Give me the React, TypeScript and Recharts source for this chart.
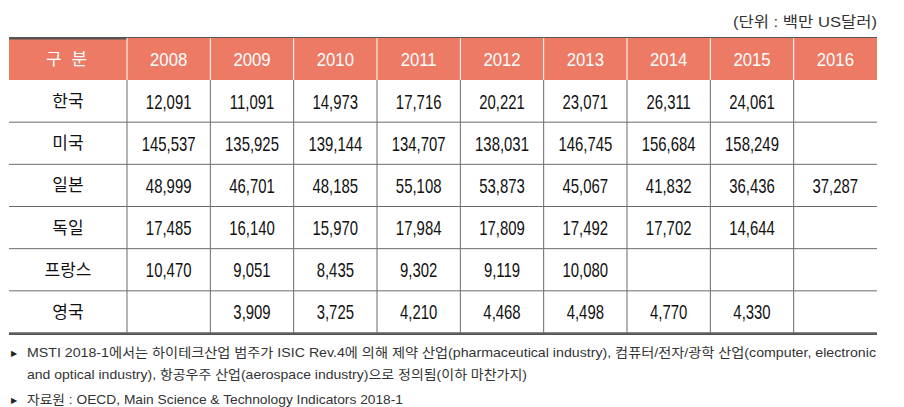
import { ScatterChart, Scatter, XAxis, YAxis } from 'recharts';

const years = ['2008', '2009', '2010', '2011', '2012', '2013', '2014', '2015', '2016'];
const countries = ['한국', '미국', '일본', '독일', '프랑스', '영국'];

const korea = [12091, 11091, 14973, 17716, 20221, 23071, 26311, 24061, null];
const usa = [145537, 135925, 139144, 134707, 138031, 146745, 156684, 158249, null];
const japan = [48999, 46701, 48185, 55108, 53873, 45067, 41832, 36436, 37287];
const germany = [17485, 16140, 15970, 17984, 17809, 17492, 17702, 14644, null];
const france = [10470, 9051, 8435, 9302, 9119, 10080, null, null, null];
const uk = [null, 3909, 3725, 4210, 4468, 4498, 4770, 4330, null];

const unitLabel = '(단위 : 백만 US달러)';
const headerLabel = '구 분';
const notes = [
  'MSTI 2018-1에서는 하이테크산업 범주가 ISIC Rev.4에 의해 제약 산업(pharmaceutical industry), 컴퓨터/전자/광학 산업(computer, electronic',
  'and optical industry), 항공우주 산업(aerospace industry)으로 정의됨(이하 마찬가지)',
  '자료원 : OECD, Main Science & Technology Indicators 2018-1',
];

const rows = [korea, usa, japan, germany, france, uk];
const cells = countries.flatMap((country, r) =>
  years.map((year, c) => ({ country, year, value: rows[r][c] }))
);

const W = 904;
const H = 407;
const LEFT = 9;
const RIGHT = 877;
const HEAD_TOP = 38;
const HEAD_H = 42;
const BODY_BOTTOM = 333;
const FIRST_COL = 118;
const CELL_W = (RIGHT - LEFT - FIRST_COL) / years.length;
const CELL_H = (BODY_BOTTOM - HEAD_TOP - HEAD_H) / countries.length;

const SALMON = '#ec7a65';
const LINE = '#6a6a6a';
const DARK = '#555';
const LATIN = "'Liberation Sans', 'Noto Sans CJK KR', sans-serif";
const KR = "'Noto Sans CJK KR', sans-serif";

const HeaderTick = (props: any) => {
  const { x, payload } = props;
  const left = x - CELL_W / 2;
  return (
    <g>
      <rect x={left} y={HEAD_TOP} width={CELL_W} height={HEAD_H} fill={SALMON} />
      <line x1={left} x2={left} y1={HEAD_TOP} y2={HEAD_TOP + HEAD_H} stroke="#fff" strokeWidth={1} />
      <text
        transform={`translate(${x} ${HEAD_TOP + HEAD_H / 2 + 6.5}) scale(0.93 1)`}
        textAnchor="middle"
        fill="#fff"
        fontSize={18}
        fontFamily={LATIN}
      >
        {payload.value}
      </text>
    </g>
  );
};

const RowTick = (props: any) => {
  const { y, payload } = props;
  return (
    <g>
      <line x1={LEFT} x2={LEFT + FIRST_COL} y1={y + CELL_H / 2} y2={y + CELL_H / 2} stroke={LINE} strokeWidth={1} />
      <text x={LEFT + FIRST_COL / 2} y={y + 6} textAnchor="middle" fill="#111" fontSize={17} fontFamily={KR}>
        {payload.value}
      </text>
    </g>
  );
};

const CellShape = (props: any) => {
  const { cx, cy, payload } = props;
  const left = cx - CELL_W / 2;
  const top = cy - CELL_H / 2;
  return (
    <g>
      <line x1={left} x2={left} y1={top} y2={top + CELL_H} stroke={LINE} strokeWidth={1} />
      <line x1={left} x2={left + CELL_W} y1={top + CELL_H} y2={top + CELL_H} stroke={LINE} strokeWidth={1} />
      {payload.value != null && (
        <text
          transform={`translate(${cx} ${cy + 7.5}) scale(0.71 1)`}
          textAnchor="middle"
          fill="#111"
          fontSize={21}
          fontFamily={LATIN}
        >
          {payload.value.toLocaleString('en-US')}
        </text>
      )}
    </g>
  );
};

export default function App() {
  return (
    <div style={{ position: 'absolute', left: 0, top: 0, width: W, height: H, background: '#fff' }}>
      <ScatterChart width={W} height={H} margin={{ top: HEAD_TOP, right: W - RIGHT, bottom: H - BODY_BOTTOM, left: LEFT }}>
        <XAxis
          dataKey="year"
          type="category"
          orientation="top"
          height={HEAD_H}
          allowDuplicatedCategory={false}
          axisLine={false}
          tickLine={false}
          interval={0}
          tick={<HeaderTick />}
        />
        <YAxis
          dataKey="country"
          type="category"
          width={FIRST_COL}
          reversed
          allowDuplicatedCategory={false}
          axisLine={false}
          tickLine={false}
          interval={0}
          tick={<RowTick />}
        />
        <Scatter data={cells} shape={<CellShape />} isAnimationActive={false} />

        <rect x={LEFT} y={HEAD_TOP} width={FIRST_COL} height={HEAD_H} fill={SALMON} />
        <text
          x={LEFT + FIRST_COL / 2}
          y={HEAD_TOP + HEAD_H / 2 + 6}
          textAnchor="middle"
          fill="#fff"
          fontSize={17}
          fontFamily={KR}
          letterSpacing={3}
        >
          {headerLabel}
        </text>
        <rect x={LEFT} y={HEAD_TOP - 1} width={RIGHT - LEFT} height={2.5} fill={DARK} />
        <rect x={LEFT} y={BODY_BOTTOM - 0.5} width={RIGHT - LEFT} height={2.5} fill={DARK} />

        <text x={733} y={27} fill="#333" fontSize={15} fontFamily={LATIN} textLength={144} lengthAdjust="spacingAndGlyphs">
          {unitLabel}
        </text>

        <text x={11} y={356} fill="#222" fontSize={8} fontFamily="'DejaVu Sans', sans-serif">▶</text>
        <text x={27} y={357} fill="#333" fontSize={13} fontFamily={LATIN} textLength={849} lengthAdjust="spacingAndGlyphs">
          {notes[0]}
        </text>
        <text x={27} y={379} fill="#333" fontSize={13} fontFamily={LATIN} textLength={500} lengthAdjust="spacingAndGlyphs">
          {notes[1]}
        </text>
        <text x={11} y={403} fill="#222" fontSize={8} fontFamily="'DejaVu Sans', sans-serif">▶</text>
        <text x={27} y={404} fill="#333" fontSize={13} fontFamily={LATIN} textLength={376} lengthAdjust="spacingAndGlyphs">
          {notes[2]}
        </text>
      </ScatterChart>
    </div>
  );
}
